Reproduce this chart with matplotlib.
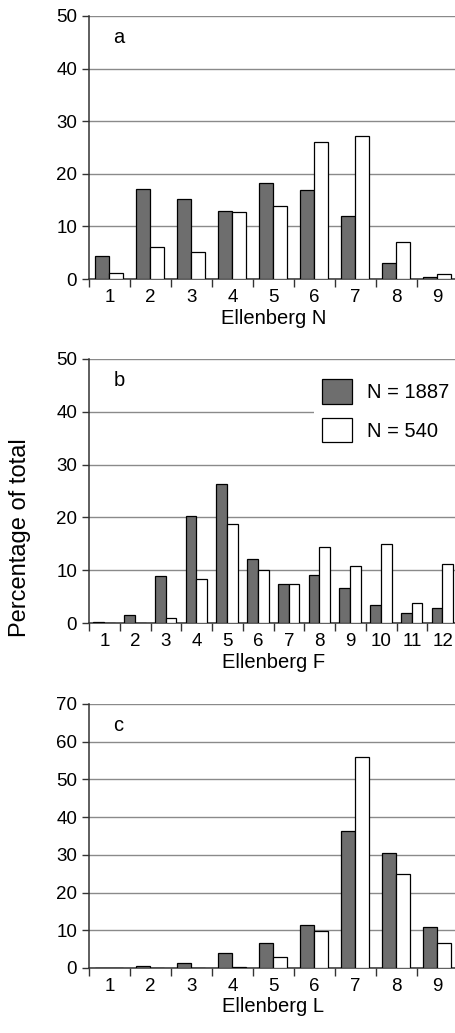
import matplotlib
matplotlib.use("Agg")
import matplotlib.pyplot as plt
import numpy as np
from matplotlib.patches import Patch

plt.rcParams['font.family'] = ['Liberation Sans', 'DejaVu Sans']

# Data (percentage of total)
n_cats = [1, 2, 3, 4, 5, 6, 7, 8, 9]
n_1887 = [4.4, 17.1, 15.2, 13.0, 18.2, 17.0, 11.9, 3.0, 0.4]
n_540 = [1.1, 6.1, 5.1, 12.8, 13.9, 26.1, 27.1, 7.0, 0.9]

f_cats = [1, 2, 3, 4, 5, 6, 7, 8, 9, 10, 11, 12]
f_1887 = [0.1, 1.5, 8.9, 20.2, 26.4, 12.1, 7.4, 9.0, 6.7, 3.4, 1.9, 2.9]
f_540 = [0.0, 0.0, 1.0, 8.3, 18.7, 10.0, 7.3, 14.4, 10.8, 14.9, 3.8, 11.2]

l_cats = [1, 2, 3, 4, 5, 6, 7, 8, 9]
l_1887 = [0.0, 0.4, 1.2, 3.9, 6.5, 11.4, 36.3, 30.6, 10.8]
l_540 = [0.0, 0.0, 0.0, 0.3, 3.0, 9.9, 56.0, 25.0, 6.7]

panels = [
    ("a", "Ellenberg N", n_cats, n_1887, n_540, 50, [0, 10, 20, 30, 40, 50]),
    ("b", "Ellenberg F", f_cats, f_1887, f_540, 50, [0, 10, 20, 30, 40, 50]),
    ("c", "Ellenberg L", l_cats, l_1887, l_540, 70, [0, 10, 20, 30, 40, 50, 60, 70]),
]
series_labels = ["N = 1887", "N = 540"]

DARK = "#6e6e6e"
GRID = "#8a8a8a"
AX = "#333333"

fig = plt.figure(figsize=(4.55, 10.33), dpi=100)
W, H = 455.0, 1033.0
boxes = [(89, 16, 279), (89, 359, 623), (89, 704, 968)]
right_px = 458

axes = []
for (letter, xlabel, cats, s1, s2, ymax, yticks), (lx, top, bot) in zip(panels, boxes):
    ax = fig.add_axes([lx / W, 1 - bot / H, (right_px - lx) / W, (bot - top) / H])
    axes.append(ax)
    x = np.array(cats, dtype=float)
    bw = 0.35
    ax.bar(x - bw / 2 - 0.01, s1, width=bw, color=DARK, edgecolor="black", linewidth=0.9, zorder=3)
    ax.bar(x + bw / 2 - 0.01, s2, width=bw, color="white", edgecolor="black", linewidth=0.9, zorder=3)
    ax.set_xlim(0.5, len(cats) + 0.5)
    ax.set_ylim(0, ymax)
    ax.set_yticks(yticks)
    ax.yaxis.grid(True, color=GRID, linewidth=1.0, zorder=0)
    ax.set_axisbelow(True)
    ax.set_xticks(np.arange(0.5, len(cats) + 0.51, 1.0))
    ax.set_xticklabels([])
    ax.set_xticks(x, minor=True)
    ax.set_xticklabels([str(c) for c in cats], minor=True)
    ax.tick_params(axis="x", which="major", length=6, width=1.0, color=AX, direction="out")
    ax.tick_params(axis="x", which="minor", length=0, labelsize=13.5, pad=7)
    ax.tick_params(axis="y", length=5, width=1.0, color=AX, labelsize=13.5, pad=3.5)
    for sp in ["top", "right"]:
        ax.spines[sp].set_visible(False)
    for sp in ["left", "bottom"]:
        ax.spines[sp].set_color(AX)
        ax.spines[sp].set_linewidth(1.1)
    ax.set_xlabel(xlabel, fontsize=14.5, labelpad=2)
    ax.text(0.066, 0.898, letter, transform=ax.transAxes, fontsize=14.5, ha="left", va="baseline")

# legend in panel b
handles = [Patch(facecolor=DARK, edgecolor="black", linewidth=0.9),
           Patch(facecolor="white", edgecolor="black", linewidth=0.9)]
leg = axes[1].legend(handles, series_labels, loc="upper left",
                     bbox_to_anchor=((314 - 89) / (right_px - 89), 1 - (371 - 359) / 264.0),
                     fontsize=14.5, frameon=True, fancybox=False, borderpad=0.4,
                     handlelength=1.5, handleheight=1.5, handletextpad=0.75,
                     labelspacing=0.7, borderaxespad=0)
leg.get_frame().set_facecolor("white")
leg.get_frame().set_edgecolor("none")
leg.get_frame().set_alpha(1.0)
leg.set_zorder(5)

fig.text(20 / W, 1 - 538 / H, "Percentage of total", rotation=90, fontsize=17,
         ha="center", va="center")

fig.savefig("out.png", dpi=100)
